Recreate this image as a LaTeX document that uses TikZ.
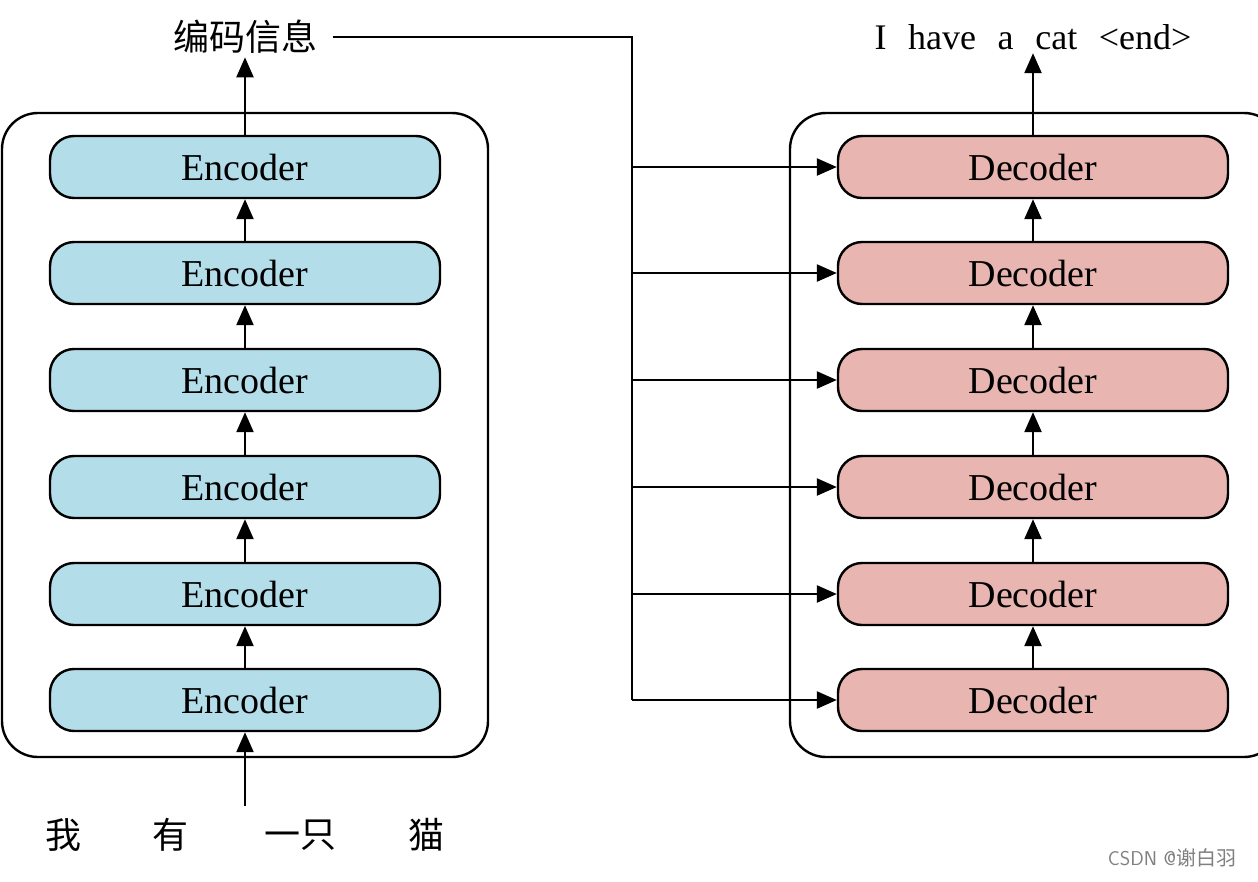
\documentclass[tikz,border=0pt]{standalone}
\usepackage{fontspec}
\setmainfont{Liberation Serif}
\newfontfamily\cjk{Noto Sans CJK SC}
\usetikzlibrary{arrows.meta}
\begin{document}
\begin{tikzpicture}[x=1pt,y=-1pt,
  ar/.style={line width=2.4pt,-{Triangle[width=17pt,length=20pt]}},
  ln/.style={line width=2.4pt},
  blk/.style={draw,line width=2.4pt,rounded corners=24pt,minimum width=390pt,minimum height=62pt,inner sep=0pt,font=\fontsize{38}{40}\selectfont},
  enc/.style={blk,fill=encfill},
  dec/.style={blk,fill=decfill},
  box/.style={draw,line width=2.4pt,rounded corners=36pt},
  cn/.style={font=\cjk\fontsize{36}{38}\selectfont}]
\definecolor{encfill}{HTML}{B3DDE9}
\definecolor{decfill}{HTML}{E8B5B1}
\useasboundingbox[fill=white] (0,0) rectangle (1258,881);
\draw[box] (2,113) rectangle (488,757);
\draw[box] (790,113) rectangle (1280,757);
\foreach \i/\y in {1/700,2/594,3/487,4/380,5/273,6/167}{
  \node[enc] (e\i) at (245,\y) {Encoder};
  \node[dec] (d\i) at (1033,\y) {Decoder};
}
\foreach \i/\j in {1/2,2/3,3/4,4/5,5/6}{
  \draw[ar] (e\i) -- (e\j);
  \draw[ar] (d\i) -- (d\j);
}
\node[cn] (code) at (245,37) {编码信息};
\draw[ar] (e6) -- (code);
\node[font=\fontsize{36}{38}\selectfont] (out) at (1033,37) {I\hspace{0.6em}have\hspace{0.6em}a\hspace{0.6em}cat\hspace{0.6em}<end>};
\draw[ar] (d6) -- (out);
\coordinate (in) at (245,806);
\draw[ar] (in) -- (e1);
\node[cn] (w1) at (63,835) {我};
\node[cn] (w2) at (170,835) {有};
\node[cn] (w3) at (300,835) {一只};
\node[cn] (w4) at (426,835) {猫};
\coordinate (c0) at (632,37);
\coordinate (c1) at (632,700);
\draw[ln] (code.east) ++(12,0) coordinate (cs) -- (c0) -- (c1);
\foreach \i in {1,...,6}{
  \draw[ar] (632,0 |- d\i) -- (d\i.west);
}
\node[font=\fontsize{20}{22}\selectfont\sffamily,text=gray] (wm) at (1172,858) {CSDN @{\cjk 谢白羽}};
\end{tikzpicture}
\end{document}
